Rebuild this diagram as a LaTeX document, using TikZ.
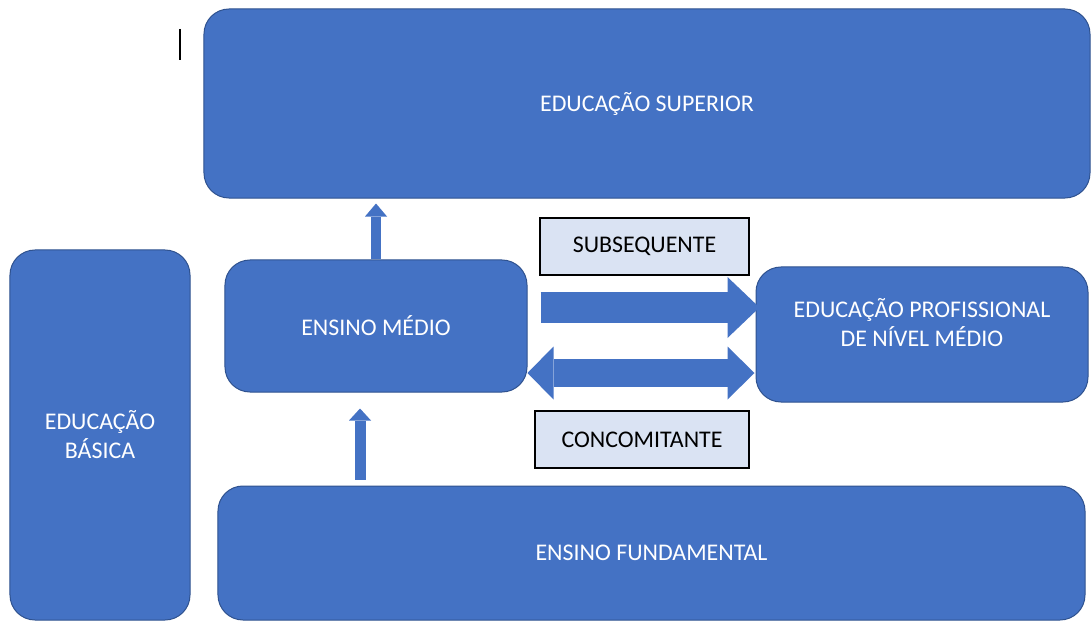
\documentclass[tikz,border=0pt]{standalone}
\usepackage{fontspec}
\setmainfont{Carlito}
\usetikzlibrary{arrows.meta}
\definecolor{boxblue}{HTML}{4472C4}
\definecolor{boxline}{HTML}{2F528F}
\definecolor{tagfill}{HTML}{DAE3F3}
\begin{document}
\begin{tikzpicture}[x=0.2mm,y=-0.2mm,
        level/.style={rounded corners=5mm,fill=boxblue,draw=boxline,line width=0.2mm,
            text=white,align=center,inner sep=0pt,font=\fontsize{13.6}{16.5}\selectfont},
        tag/.style={fill=tagfill,draw=black,line width=0.25mm,inner sep=0pt,
            minimum height=11.4mm,font=\fontsize{13.6}{16.5}\selectfont},
        blockarrow/.style={draw=boxblue}]
                \useasboundingbox (0,0) rectangle (1092,623);
                \node[level,minimum width=177.2mm,minimum height=37.8mm] (superior) at (647,103.5) {EDUCAÇÃO SUPERIOR};
                \node[level,minimum width=36mm,minimum height=74mm] (basica) at (100,435) {EDUCAÇÃO\\BÁSICA};
                \node[level,minimum width=60.4mm,minimum height=26.4mm] (medio) at (376,326) {ENSINO MÉDIO};
                \node[level,minimum width=173.4mm,minimum height=26.8mm] (fundamental) at (651.5,553) {ENSINO FUNDAMENTAL};
                \node[level,minimum width=66.4mm,minimum height=27mm] (profissional) at (922,334.5) {EDUCAÇÃO PROFISSIONAL\\DE NÍVEL MÉDIO\\[-3pt]\mbox{}};
                \node[tag,minimum width=41.8mm] (subsequente) at (644.5,246.5) {SUBSEQUENTE};
                \node[tag,minimum width=42.8mm] (concomitante) at (642,439.5) {CONCOMITANTE};
                \draw[line width=0.3mm] (180,29) -- (180,60);
                \draw[blockarrow,line width=2mm,-{Triangle[width=4.4mm,length=2.6mm,line width=0pt]},shorten >=1mm]
                    (medio.north) -- (medio.north |- superior.south);
                \draw[blockarrow,line width=2.2mm,-{Triangle[width=4.4mm,length=2.4mm,line width=0pt]},shorten <=1.2mm,shorten >=3.2mm]
                    ([xshift=-3.2mm]medio.south |- fundamental.north) -- ([xshift=-3.2mm]medio.south);
                \draw[blockarrow,line width=6.2mm,-{Triangle[width=12.2mm,length=6.4mm,line width=0pt]},shorten <=2.6mm,shorten >=-0.8mm]
                    ([yshift=3.7mm]medio.east) -- ([yshift=3.7mm]medio.east -| profissional.west);
                \draw[blockarrow,line width=5.6mm,{Triangle[width=10.6mm,length=5.2mm,line width=0pt]}-{Triangle[width=10.6mm,length=5.4mm,line width=0pt]},shorten >=0.2mm]
                    ([yshift=-9.4mm]medio.east) -- ([yshift=-9.4mm]medio.east -| profissional.west);
            \end{tikzpicture}
\end{document}
